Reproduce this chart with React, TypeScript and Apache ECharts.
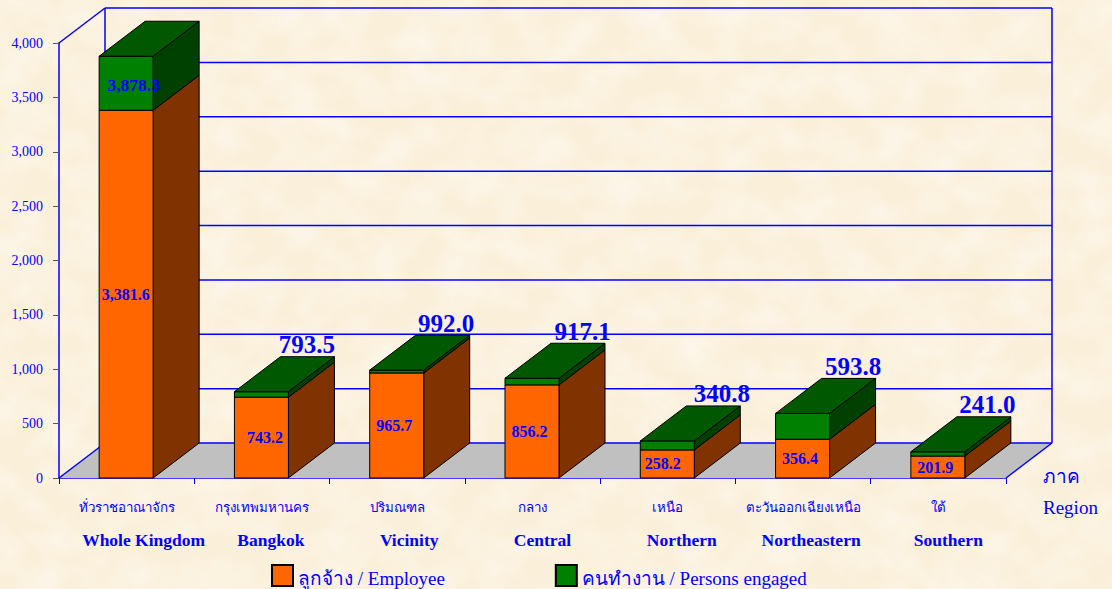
import React, { useEffect, useRef } from "react";
import * as echarts from "echarts";

const regionsThai = ["ทั่วราชอาณาจักร", "กรุงเทพมหานคร", "ปริมณฑล", "กลาง", "เหนือ", "ตะวันออกเฉียงเหนือ", "ใต้"];
const regionsEnglish = ["Whole Kingdom", "Bangkok", "Vicinity", "Central", "Northern", "Northeastern", "Southern"];
const employee = [3381.6, 743.2, 965.7, 856.2, 258.2, 356.4, 201.9];
const personsEngaged = [3878.3, 793.5, 992.0, 917.1, 340.8, 593.8, 241.0];
const yTicks = [0, 500, 1000, 1500, 2000, 2500, 3000, 3500, 4000];

const BLUE = "#0000FF";
const SERIF = "'Liberation Serif', 'Times New Roman', serif";
const DEPTH_X = 46;
const DEPTH_Y = 35;
const BAR_W = 54;
const englishShift = [17, 9, 12, 10, 14, 8, 10];
const employeeLabelShift = [-1, 3, -3, -3, -5, -3, -3];
const totalLabelShift = [7, 45, 49, 50, 54, 50, 49];

const textureSvg = `<svg xmlns='http://www.w3.org/2000/svg' width='1112' height='589'><filter id='f' x='0' y='0' width='100%' height='100%'><feTurbulence type='fractalNoise' baseFrequency='0.025 0.03' numOctaves='4' seed='7'/><feColorMatrix values='0 0 0 0 0.992  0 0 0 0 0.953  0 0 0 0 0.890  1.2 0 0 0 -0.4'/></filter><rect width='1112' height='589' fill='#FAEFD9'/><rect width='1112' height='589' filter='url(#f)'/></svg>`;

const fmt = (v: number) =>
  v.toLocaleString("en-US", { minimumFractionDigits: 1, maximumFractionDigits: 1 });

function boxFaces(x: number, yBase: number, yTop: number, front: string, side: string, top: string | null) {
  const stroke = { stroke: "#000", lineWidth: 1 };
  const l = x - BAR_W / 2;
  const r = x + BAR_W / 2;
  const faces: any[] = [
    { type: "polygon", shape: { points: [[r, yBase], [r + DEPTH_X, yBase - DEPTH_Y], [r + DEPTH_X, yTop - DEPTH_Y], [r, yTop]] }, style: { fill: side, ...stroke } },
    { type: "rect", shape: { x: l, y: yTop, width: BAR_W, height: yBase - yTop }, style: { fill: front, ...stroke } },
  ];
  if (top) {
    faces.push({ type: "polygon", shape: { points: [[l, yTop], [l + DEPTH_X, yTop - DEPTH_Y], [r + DEPTH_X, yTop - DEPTH_Y], [r, yTop]] }, style: { fill: top, ...stroke } });
  }
  return faces;
}

export default function App() {
  const ref = useRef<HTMLDivElement>(null);
  useEffect(() => {
    const chart = echarts.init(ref.current!, null, { renderer: "svg" });
    const idx = regionsThai.map((_, i) => i);
    chart.setOption({
      animation: false,
      backgroundColor: "transparent",
      textStyle: { fontFamily: SERIF },
      grid: { left: 59, top: 43, width: 947, height: 435, containLabel: false },
      xAxis: {
        type: "category",
        data: regionsThai,
        boundaryGap: true,
        axisLine: { lineStyle: { color: BLUE, width: 1.5 } },
        axisTick: { show: true, length: 6, alignWithLabel: false, lineStyle: { color: BLUE, width: 1 } },
        axisLabel: { interval: 0, color: BLUE, fontSize: 13.3, fontFamily: SERIF, margin: 23 },
        name: "{a|ภาค}\n{a|Region}",
        nameLocation: "end",
        nameGap: 37,
        nameTextStyle: {
          align: "left",
          verticalAlign: "top",
          rich: { a: { color: BLUE, fontSize: 19, fontFamily: SERIF, lineHeight: 31 } },
          padding: [-17, 0, 0, 0],
        },
      },
      yAxis: {
        type: "value",
        min: 0,
        max: 4000,
        interval: 500,
        axisLine: { show: true, lineStyle: { color: BLUE, width: 1.5 } },
        axisTick: { show: true, length: 6, lineStyle: { color: "#555", width: 1 } },
        axisLabel: {
          color: BLUE,
          fontSize: 14,
          fontFamily: SERIF,
          margin: 16,
          formatter: (v: number) => v.toLocaleString("en-US"),
        },
        splitLine: { show: false },
      },
      legend: {
        left: 271,
        top: 564,
        padding: 0,
        icon: "rect",
        itemWidth: 21,
        itemHeight: 21,
        itemGap: 110,
        data: ["ลูกจ้าง / Employee", "คนทำงาน / Persons engaged"],
        formatter: (name: string) => `{a|${name}}`,
        textStyle: {
          color: BLUE,
          fontSize: 19,
          fontFamily: SERIF,
          rich: { a: { color: BLUE, fontSize: 19, fontFamily: SERIF, padding: [6, 0, 0, 0] } },
        },
        selectedMode: false,
      },
      series: [
        {
          type: "custom",
          name: "walls",
          silent: true,
          data: [0],
          z: 1,
          renderItem: (params: any, api: any) => {
            const cs = params.coordSys;
            const left = cs.x;
            const right = cs.x + cs.width;
            const y0 = api.coord([0, 0])[1];
            const line = (x1: number, y1: number, x2: number, y2: number) => ({
              type: "line",
              shape: { x1, y1, x2, y2 },
              style: { stroke: BLUE, lineWidth: 1.5 },
            });
            const yTop = api.coord([0, yTicks[yTicks.length - 1]])[1];
            return {
              type: "group",
              children: [
                {
                  type: "polygon",
                  shape: { points: [[left, y0], [left + DEPTH_X, y0 - DEPTH_Y], [right + DEPTH_X, y0 - DEPTH_Y], [right, y0]] },
                  style: { fill: "#C0C0C0" },
                },
                ...yTicks.map((v) => {
                  const y = api.coord([0, v])[1] - DEPTH_Y;
                  return line(left + DEPTH_X, y, right + DEPTH_X, y);
                }),
                line(left + DEPTH_X, yTop - DEPTH_Y, left + DEPTH_X, y0 - DEPTH_Y),
                line(right + DEPTH_X, yTop - DEPTH_Y, right + DEPTH_X, y0 - DEPTH_Y),
                line(left, yTop, left + DEPTH_X, yTop - DEPTH_Y),
                line(left, y0, left + DEPTH_X, y0 - DEPTH_Y),
                line(right, y0, right + DEPTH_X, y0 - DEPTH_Y),
              ],
            };
          },
        },
        {
          type: "custom",
          name: "ลูกจ้าง / Employee",
          itemStyle: { color: "#FF6600", borderColor: "#000", borderWidth: 1 },
          data: idx.map((i) => [i, 0, employee[i]]),
          encode: { x: 0, y: 2 },
          z: 2,
          renderItem: (_p: any, api: any) => {
            const i = api.value(0);
            const [x, yBase] = api.coord([i, 0]);
            const yTop = api.coord([i, api.value(2)])[1];
            return {
              type: "group",
              children: boxFaces(x - 0.5, yBase, yTop, "#FF6600", "#803300", null),
            };
          },
        },
        {
          type: "custom",
          name: "คนทำงาน / Persons engaged",
          itemStyle: { color: "#008000", borderColor: "#000", borderWidth: 1 },
          data: idx.map((i) => [i, employee[i], personsEngaged[i]]),
          encode: { x: 0, y: 2 },
          z: 3,
          renderItem: (_p: any, api: any) => {
            const i = api.value(0);
            const x = api.coord([i, 0])[0];
            const yBase = api.coord([i, api.value(1)])[1];
            const yTop = api.coord([i, api.value(2)])[1];
            return {
              type: "group",
              children: boxFaces(x - 0.5, yBase, yTop, "#008000", "#004000", "#005800"),
            };
          },
        },
        {
          type: "custom",
          name: "labels",
          silent: true,
          data: idx.map((i) => [i, employee[i], personsEngaged[i]]),
          encode: { x: 0, y: 2 },
          z: 4,
          renderItem: (_p: any, api: any) => {
            const i = api.value(0);
            const emp = api.value(1);
            const tot = api.value(2);
            const [x, y0] = api.coord([i, 0]);
            const yEmp = api.coord([i, emp / 2])[1];
            const yTot = api.coord([i, tot])[1];
            const inside = tot > 2000;
            const text = (t: string, tx: number, ty: number, size: number, weight: string) => ({
              type: "text",
              style: {
                text: t,
                x: tx,
                y: ty,
                fill: BLUE,
                font: `${weight} ${size}px ${SERIF}`,
                align: "center",
                verticalAlign: "middle",
              },
            });
            return {
              type: "group",
              children: [
                text(fmt(emp), x + employeeLabelShift[i], yEmp, 16, "bold"),
                inside
                  ? text(fmt(tot), x + totalLabelShift[i], api.coord([i, (emp + tot) / 2])[1] + 2, 17.5, "bold")
                  : text(fmt(tot), x + totalLabelShift[i], yTot - DEPTH_Y - 12, 25, "bold"),
                text(regionsEnglish[i], x + englishShift[i], y0 + 62, 17.5, "bold"),
              ],
            };
          },
        },
      ],
    });
    return () => chart.dispose();
  }, []);
  return (
    <div
      ref={ref}
      style={{
        position: "fixed",
        left: 0,
        top: 0,
        width: 1112,
        height: 589,
        backgroundColor: "#FBF1DD",
        backgroundImage: `url("data:image/svg+xml,${encodeURIComponent(textureSvg)}")`,
      }}
    />
  );
}
